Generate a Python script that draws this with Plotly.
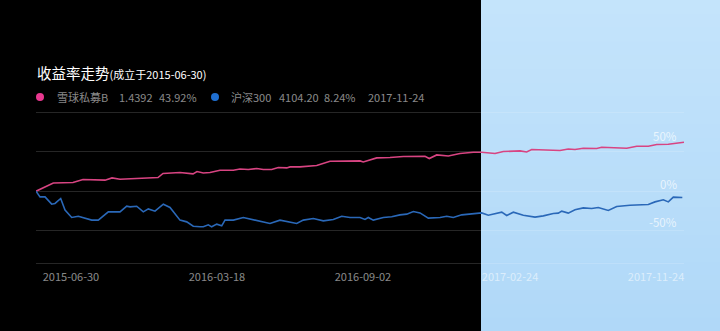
import plotly.graph_objects as go

# ---- data (time position in % of period, value in %) ----
fund_t = [0, 2.67, 5.71, 7.25, 10.65, 11.73, 12.96, 18.83, 19.6, 22.22, 24.23, 24.85, 25.82, 26.85,
          28.4, 30.45, 31.48, 32.76, 34.06, 35.08, 36.37, 37.39, 38.69, 39.2, 40.74, 43.32, 45.37,
          47.95, 50.0, 50.51, 52.58, 54.63, 56.68, 60.03, 60.69, 61.84, 63.63, 65.43, 67.48, 68.78,
          70.83, 72.11, 74.69, 75.72, 76.5, 80.86, 82.14, 83.18, 84.46, 86.53, 87.3, 91.16, 92.7,
          94.49, 95.79, 97.58, 98.87, 100]
fund_v = [0, 10.5, 11.0, 14.9, 14.0, 16.9, 15.2, 17.4, 22.5, 23.8, 22.0, 25.0, 23.2, 23.7,
          26.7, 26.7, 28.3, 27.6, 28.8, 27.6, 27.6, 30.1, 29.6, 30.9, 30.9, 32.6, 38.1,
          38.1, 38.5, 37.2, 42.3, 42.8, 44.1, 44.5, 41.5, 46.1, 44.8, 47.9, 49.5, 49.5,
          47.9, 50.4, 51.2, 49.9, 53.0, 51.7, 53.7, 53.0, 54.6, 54.2, 55.9, 54.6, 57.2,
          57.2, 59.3, 59.7, 61.0, 62.2]

index_t = [0, 0.62, 1.39, 2.42, 2.93, 3.81, 4.48, 5.51, 6.53, 7.56, 8.6, 9.61, 11.16, 12.96, 14.0,
           14.51, 15.54, 16.56, 17.33, 18.36, 19.65, 20.68, 22.22, 23.26, 24.27, 25.31, 25.82,
           26.59, 27.11, 27.89, 28.66, 29.17, 30.45, 31.99, 34.06, 36.11, 37.65, 39.2, 40.23,
           41.25, 42.79, 44.34, 45.88, 47.18, 48.46, 50.0, 50.77, 51.28, 52.05, 53.6, 54.89,
           56.17, 57.21, 58.23, 59.26, 60.54, 62.35, 63.38, 64.4, 65.7, 67.48, 68.78, 69.8,
           71.87, 72.64, 73.66, 75.2, 77.01, 78.29, 79.83, 80.6, 81.13, 82.14, 83.18, 84.46,
           85.76, 86.77, 88.32, 89.61, 91.67, 94.49, 95.52, 96.81, 97.58, 98.35, 98.87, 99.74]
index_v = [0, -7.2, -7.2, -16.5, -15.6, -9.3, -24.1, -33.4, -31.8, -33.9, -36.8, -36.8, -26.3, -26.3,
           -19.1, -19.9, -19.1, -26.3, -22.5, -25.4, -16.5, -20.7, -36.8, -39.0, -44.5, -45.3,
           -45.3, -42.8, -45.3, -41.9, -44.1, -36.8, -36.8, -33.4, -37.7, -41.0, -36.8, -39.0,
           -41.0, -36.8, -34.7, -37.7, -35.9, -31.8, -33.4, -33.4, -35.9, -33.4, -36.8, -33.4,
           -32.6, -30.1, -29.2, -25.8, -27.6, -34.3, -33.4, -31.8, -33.4, -30.1, -29.2, -27.6,
           -30.5, -26.7, -30.9, -26.7, -30.5, -33.0, -31.4, -28.3, -27.9, -25.4, -27.9, -23.7,
           -21.2, -22.0, -20.7, -24.5, -19.4, -17.8, -16.9, -13.6, -11.0, -13.6, -7.6, -7.6, -8.0]

x_tick_labels = ["2015-06-30", "2016-03-18", "2016-09-02", "2017-02-24", "2017-11-24"]
x_tick_pos = [5.4, 27.93, 50.46, 73.15, 95.68]
y_grid_vals = [100, 50, 0, -50]
y_label_vals = [50, 0, -50]
y_label_text = ["50%", "0%", "-50%"]

legend_items = ["雪球私募B", "1.4392", "43.92%", "沪深300", "4104.20", "8.24%", "2017-11-24"]

PINK = "#d84482"
BLUE = "#2a68b8"
FAINT = "rgba(255,255,255,0.55)"
GRID = "rgba(255,255,255,0.15)"
FONT = "Noto Sans CJK SC"

W, H = 720, 331
L, R, T, B = 36, 36, 106, 68
PW, PH = W - L - R, H - T - B

def px(x):
    return (x - L) / PW

def py(y):
    return (H - B - y) / PH

fig = go.Figure()
fig.add_trace(go.Scatter(x=fund_t, y=fund_v, mode="lines",
                         line=dict(color=PINK, width=1.6), hoverinfo="skip"))
fig.add_trace(go.Scatter(x=index_t, y=index_v, mode="lines",
                         line=dict(color=BLUE, width=1.6), hoverinfo="skip"))

shapes = []
# light-blue highlighted panel with vertical gradient (each band runs to the bottom)
n = 24
c0 = (196, 228, 251)
c1 = (176, 216, 248)
for i in range(n):
    f = i / (n - 1)
    c = tuple(round(c0[k] + (c1[k] - c0[k]) * f) for k in range(3))
    y_top = -2 if i == 0 else H * i / n
    shapes.append(dict(type="rect", xref="paper", yref="paper", layer="below",
                       x0=px(481), x1=px(W + 2), y0=py(H + 2), y1=py(y_top),
                       fillcolor="rgb(%d,%d,%d)" % c, line=dict(width=0)))
# legend dots
for cx, col in [(40, "#e8388f"), (215, "#1f6fd1")]:
    shapes.append(dict(type="circle", xref="paper", yref="paper",
                       x0=px(cx - 4), x1=px(cx + 4), y0=py(101), y1=py(93),
                       fillcolor=col, line=dict(width=0)))

annotations = [
    dict(xref="paper", yref="paper", x=px(35), y=py(72), xanchor="left", yanchor="middle",
         showarrow=False,
         text='收益率走势<span style="font-size:11px">(成立于2015-06-30)</span>',
         font=dict(family=FONT, size=14.5, color="#ffffff")),
]
legend_x = [55, 117, 157, 229, 277, 322, 366]
for lx, txt in zip(legend_x, legend_items):
    annotations.append(dict(xref="paper", yref="paper", x=px(lx), y=py(97),
                            xanchor="left", yanchor="middle", showarrow=False, text=txt,
                            font=dict(family=FONT, size=11, color=FAINT)))
# y-axis value labels, drawn above their grid lines at the right edge
y_label_shift = [16, 7, 9]
for v, txt, sh in zip(y_label_vals, y_label_text, y_label_shift):
    annotations.append(dict(xref="paper", yref="y", x=px(679), y=v, xanchor="right",
                            yanchor="middle", yshift=sh, showarrow=False, text=txt,
                            font=dict(family=FONT, size=11.5, color="rgba(255,255,255,0.7)")))

fig.update_layout(
    width=W, height=H,
    margin=dict(l=L, r=R, t=T, b=B, pad=0),
    paper_bgcolor="#000000", plot_bgcolor="rgba(0,0,0,0)",
    showlegend=False,
    shapes=shapes,
    annotations=annotations,
    xaxis=dict(range=[0, 100], tickvals=x_tick_pos, ticktext=x_tick_labels,
               showgrid=False, zeroline=False, showline=True, linecolor=GRID, linewidth=1,
               ticks="", ticklabeloverflow="allow", ticklabelstandoff=4,
               tickfont=dict(family=FONT, size=11, color=FAINT), fixedrange=True),
    yaxis=dict(range=[-91.3, 108.3], tickvals=y_grid_vals, showticklabels=False,
               showgrid=True, gridcolor=GRID, gridwidth=1, zeroline=False, showline=False,
               ticks="", fixedrange=True),
)

fig.write_html("out.html")
